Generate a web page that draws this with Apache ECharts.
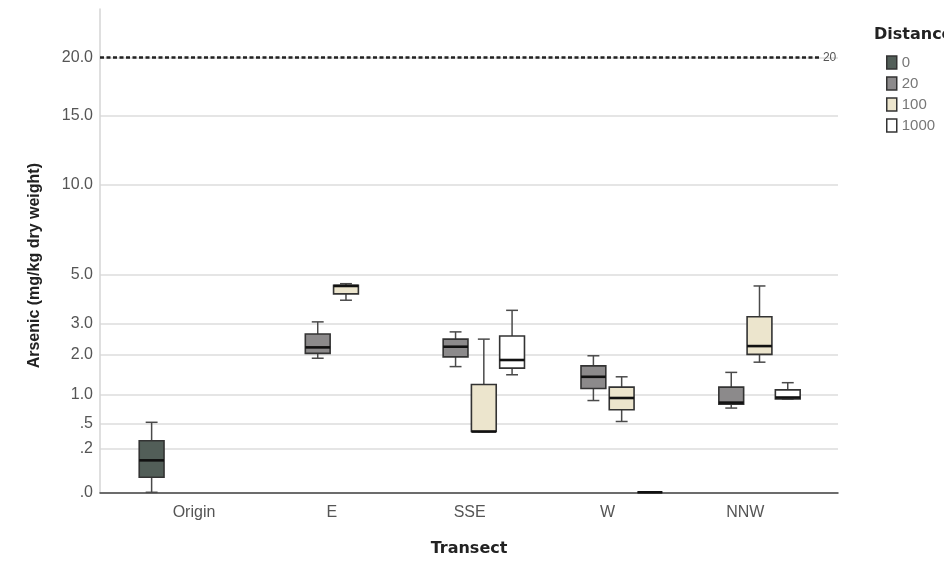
<!DOCTYPE html>
<html>
<head>
<meta charset="utf-8">
<script src="https://cdn.jsdelivr.net/npm/echarts@6/dist/echarts.min.js"></script>
<style>
  html, body { margin: 0; padding: 0; background: #ffffff; }
  #chart { width: 944px; height: 565px; }
</style>
</head>
<body>
<div id="chart"></div>
<script>
// Transects along the x axis, sampling distances as grouped boxes
const categories = ['Origin', 'E', 'SSE', 'W', 'NNW'];
const distances = ['0', '20', '100', '1000'];

// Box summaries per distance: [transect index, min, Q1, median, Q3, max] (mg/kg)
const dist0 = [
  [0, 0.00, 0.024, 0.108, 0.281, 0.518]
];
const dist20 = [
  [1, 1.90, 2.04, 2.22, 2.65, 3.07],
  [2, 1.67, 1.94, 2.24, 2.48, 2.72],
  [3, 0.89, 1.14, 1.41, 1.69, 1.97],
  [4, 0.75, 0.82, 0.85, 1.17, 1.52]
];
const dist100 = [
  [1, 3.90, 4.16, 4.50, 4.53, 4.60],
  [2, 0.39, 0.39, 0.39, 1.23, 2.48],
  [3, 0.53, 0.72, 0.94, 1.17, 1.41],
  [4, 1.79, 2.01, 2.26, 3.26, 4.50]
];
const dist1000 = [
  [2, 1.46, 1.63, 1.85, 2.58, 3.50],
  [3, 0.00, 0.00, 0.00, 0.00, 0.00],
  [4, 0.92, 0.92, 0.95, 1.11, 1.27]
];

// Square-root axis tick labels and the reference level
const yTicks = [0, 0.2, 0.5, 1, 2, 3, 5, 10, 15, 20];
const yTop = 24.69;
const referenceLevel = 20;

const boxColors = ['#525e58', '#8c8a8b', '#ece5cd', '#ffffff'];
const seriesRows = [dist0, dist20, dist100, dist1000];

// values are drawn on a square-root scale
const toSqrt = rows => rows.map(r => [r[0]].concat(r.slice(1).map(v => Math.sqrt(v))));

function makeRenderer(slot, fill) {
  return function (params, api) {
    const cat = api.value(0);
    const band = api.size([1, 0])[0];
    const cx = api.coord([cat, 0])[0] + (slot - 1.5) * band * 0.205;
    const boxW = band * 0.18;
    const capW = boxW * 0.48;
    const y = i => api.coord([cat, api.value(i)])[1];
    const yMin = y(1), yQ1 = y(2), yMed = y(3), yQ3 = y(4), yMax = y(5);
    const whisker = { stroke: '#4a4a4a', lineWidth: 1.5 };
    return {
      type: 'group',
      children: [
        { type: 'line', shape: { x1: cx, y1: yMax, x2: cx, y2: yQ3 }, style: whisker },
        { type: 'line', shape: { x1: cx, y1: yQ1, x2: cx, y2: yMin }, style: whisker },
        { type: 'line', shape: { x1: cx - capW / 2, y1: yMax, x2: cx + capW / 2, y2: yMax }, style: whisker },
        { type: 'line', shape: { x1: cx - capW / 2, y1: yMin, x2: cx + capW / 2, y2: yMin }, style: whisker },
        { type: 'rect', shape: { x: cx - boxW / 2, y: yQ3, width: boxW, height: Math.max(yQ1 - yQ3, 0) },
          style: { fill: fill, stroke: '#333333', lineWidth: 1.6 } },
        { type: 'line', shape: { x1: cx - boxW / 2, y1: yMed, x2: cx + boxW / 2, y2: yMed },
          style: { stroke: '#111111', lineWidth: 2.6 } }
      ]
    };
  };
}

const labelFont = "'Liberation Sans', Arial, sans-serif";
const titleFont = "'DejaVu Sans', sans-serif";

const series = distances.map((d, i) => ({
  name: d,
  type: 'custom',
  renderItem: makeRenderer(i, boxColors[i]),
  data: toSqrt(seriesRows[i]),
  encode: { x: 0, y: [1, 2, 3, 4, 5] },
  itemStyle: { color: boxColors[i] },
  silent: true,
  z: 3
}));

// dashed reference line at the 20 mg/kg level
series[0].markLine = {
  silent: true,
  symbol: 'none',
  lineStyle: { type: [4, 2.5], color: '#222222', width: 2.5 },
  label: {
    show: true, position: 'end', distance: 3, formatter: String(referenceLevel),
    fontFamily: labelFont, fontSize: 12, color: '#555555'
  },
  data: [[
    { coord: [-0.682, Math.sqrt(referenceLevel)] },
    { coord: [4.541, Math.sqrt(referenceLevel)] }
  ]]
};

const chart = echarts.init(document.getElementById('chart'), null, { renderer: 'canvas' });
chart.setOption({
  animation: false,
  backgroundColor: '#ffffff',
  title: {
    text: 'Distance', left: 874, top: 27, padding: 0,
    textStyle: { fontFamily: titleFont, fontWeight: 'bold', fontSize: 16, color: '#222222' }
  },
  legend: {
    orient: 'vertical', left: 886, top: 55, padding: 0,
    itemWidth: 10, itemHeight: 13, itemGap: 6,
    icon: 'rect', selectedMode: false,
    textStyle: { fontFamily: labelFont, fontSize: 15, color: '#777777' },
    data: distances.map((d, i) => ({
      name: d,
      itemStyle: { color: boxColors[i], borderColor: '#333333', borderWidth: 1.5 }
    }))
  },
  graphic: [{
    type: 'text',
    left: 27,
    top: 163,
    rotation: Math.PI / 2,
    style: {
      text: 'Arsenic (mg/kg dry weight)',
      fontFamily: labelFont, fontWeight: 'bold', fontSize: 16, fill: '#222222'
    }
  }],
  grid: { left: 100, right: 106, top: 9, bottom: 72.7, containLabel: false },
  xAxis: {
    type: 'value',
    min: -0.682,
    max: 4.672,
    name: 'Transect',
    nameLocation: 'middle',
    nameGap: 49,
    nameTextStyle: { fontFamily: titleFont, fontWeight: 'bold', fontSize: 16, color: '#222222' },
    axisLine: { show: true, onZero: false, lineStyle: { color: '#444444', width: 1.5 } },
    axisTick: { show: false, customValues: [0, 1, 2, 3, 4] },
    splitLine: { show: false },
    axisLabel: {
      customValues: [0, 1, 2, 3, 4],
      formatter: v => categories[Math.round(v)],
      margin: 12,
      fontFamily: labelFont, fontSize: 16, color: '#555555'
    }
  },
  yAxis: {
    type: 'value',
    min: 0,
    max: Math.sqrt(yTop),
    axisLine: { show: true, onZero: false, lineStyle: { color: '#d4d4d4', width: 1.5 } },
    axisTick: { show: false, customValues: yTicks.map(Math.sqrt) },
    splitLine: { show: true, lineStyle: { color: '#dddddd', width: 1.6 } },
    axisLabel: {
      customValues: yTicks.map(Math.sqrt),
      formatter: v => {
        const t = v * v;
        const s = t.toFixed(1);
        return t < 1 ? s.replace(/^0/, '') : s;
      },
      margin: 7,
      fontFamily: labelFont, fontSize: 16, color: '#555555'
    }
  },
  series: series
});
</script>
</body>
</html>
